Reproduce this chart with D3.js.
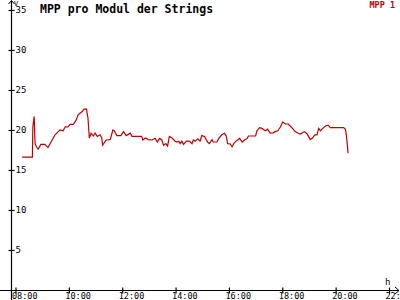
<html>
<head>
<script src="https://d3js.org/d3.v7.min.js"></script>
<style>
body { margin:0; background:#fff; }
text { font-family: "DejaVu Sans Mono", monospace; }
</style>
</head>
<body>
<script>
var width = 400;
var height = 300;

// MPP 1 (V) over the day
var times = ["08:15","08:38","08:39","08:42","08:44","08:47","08:51","08:57","09:06","09:13",
  "09:20","09:29","09:36","09:40","09:47","09:52","09:58","10:03","10:10","10:16",
  "10:21","10:25","10:30","10:34","10:40","10:41","10:43","10:46","10:50","10:55",
  "10:59","11:04","11:10","11:14","11:16","11:24","11:33","11:39","11:42","11:48",
  "11:57","12:03","12:09","12:18","12:22","12:44","12:46","12:52","12:59","13:07",
  "13:14","13:19","13:24","13:29","13:33","13:38","13:42","13:46","13:52","13:59",
  "14:03","14:07","14:10","14:14","14:18","14:24","14:31","14:37","14:40","14:44",
  "14:50","14:55","14:59","15:05","15:12","15:16","15:22","15:25","15:33","15:37",
  "15:44","15:50","15:54","15:57","16:03","16:07","16:12","16:18","16:24","16:30",
  "16:35","16:41","16:44","17:00","17:03","17:09","17:14","17:22","17:27","17:33",
  "17:39","17:44","17:50","17:56","18:01","18:07","18:13","18:18","18:23","18:29",
  "18:36","18:41","18:46","18:50","18:56","18:59","19:03","19:08","19:13","19:18",
  "19:22","19:26","19:31","19:37","19:43","19:48","20:18","20:22","20:24","20:26","20:28"];
var mpp1 = [16.6,16.6,20.4,21.7,18.3,17.9,17.6,18.2,18.2,17.8,
  18.5,19.4,19.8,20.0,19.9,20.4,20.4,20.7,20.7,21.2,
  21.9,22.1,22.3,22.6,22.6,22.1,21.5,19.0,19.6,19.25,
  19.6,19.2,19.4,19.0,18.1,18.75,18.8,20.0,19.9,19.3,
  19.3,19.8,19.3,19.6,19.2,19.2,18.75,19.0,18.8,18.75,
  18.95,18.5,18.95,18.75,18.1,18.3,18.0,19.2,19.0,18.6,
  18.5,18.6,18.3,18.6,18.2,18.6,18.6,18.3,18.75,18.6,
  18.9,18.6,19.3,19.2,18.5,18.3,18.8,18.5,18.5,18.95,
  19.4,19.6,19.25,18.3,18.25,17.9,18.4,18.7,18.95,18.5,
  18.75,18.95,19.25,19.25,19.9,20.3,20.2,19.9,20.1,19.6,
  19.65,19.8,19.9,20.4,21.0,20.75,20.75,20.5,20.2,19.8,
  19.6,19.5,19.7,19.8,19.5,19.2,18.8,19.0,19.4,19.4,
  20.2,19.9,20.2,20.5,20.6,20.3,20.3,20.1,19.4,18.3,17.1];
var xTicks = [8,10,12,14,16,18,20,22];
var yTicks = [5,10,15,20,25,30,35];

var lineColor = "#c00000";

var data = times.map(function(t, i) {
  var p = t.split(":");
  return {t: +p[0] + p[1] / 60, v: mpp1[i]};
});

var x = d3.scaleLinear().domain([8, 22]).range([15.5, 389]);
var y = d3.scaleLinear().domain([0, 35]).range([290, 10]);
var x0 = 11;
var y0 = 290.5;

var svg = d3.select("body").append("svg")
  .attr("width", width)
  .attr("height", height);

// axes lines with arrows
svg.append("line").attr("x1", x0 + 0.5).attr("x2", x0 + 0.5).attr("y1", 1).attr("y2", 300)
  .attr("stroke", "#000").attr("stroke-width", 1.2);
svg.append("line").attr("x1", 0).attr("x2", 399).attr("y1", y0).attr("y2", y0)
  .attr("stroke", "#000").attr("stroke-width", 1.2);
svg.append("path").attr("d", "M" + (x0 - 2.5) + ",4 L" + (x0 + 0.5) + ",0.5 L" + (x0 + 3.5) + ",4")
  .attr("fill", "none").attr("stroke", "#000");
svg.append("path").attr("d", "M395," + (y0 - 3.5) + " L399," + y0 + " L395," + (y0 + 3.5))
  .attr("fill", "none").attr("stroke", "#000");

var yAxis = svg.append("g")
  .attr("transform", "translate(" + (x0 + 0.5) + ",0)")
  .call(d3.axisRight(y).tickValues(yTicks).tickSize(3).tickPadding(1));
yAxis.select(".domain").remove();
yAxis.selectAll(".tick line").attr("x1", -3).attr("stroke-width", 1.2);
yAxis.selectAll(".tick text")
  .attr("font-family", "DejaVu Sans Mono").attr("font-size", 9).attr("fill", "#000");

var xAxis = svg.append("g")
  .attr("transform", "translate(0," + y0 + ")")
  .call(d3.axisBottom(x).tickValues(xTicks).tickSize(3).tickPadding(0)
    .tickFormat(function(d) { return (d < 10 ? "0" : "") + d + ":00"; }));
xAxis.select(".domain").remove();
xAxis.selectAll(".tick line").attr("y1", -3).attr("stroke-width", 1.2);
xAxis.selectAll(".tick text")
  .attr("font-family", "DejaVu Sans Mono").attr("font-size", 8.5).attr("fill", "#000")
  .attr("text-anchor", "start").attr("dx", -4).attr("dy", "0.6em");

// unit labels
svg.append("text").attr("x", 14).attr("y", 6).attr("font-size", 7).text("V");
svg.append("text").attr("x", 385).attr("y", 285).attr("font-size", 9).text("h");

// title and legend
svg.append("text").attr("x", 40).attr("y", 13)
  .attr("font-size", 11.5).attr("font-weight", "bold").attr("fill", "#000")
  .text("MPP pro Modul der Strings");
svg.append("text").attr("x", 395).attr("y", 8)
  .attr("font-size", 8.5).attr("font-weight", "bold").attr("text-anchor", "end").attr("fill", lineColor)
  .text("MPP 1");

var line = d3.line()
  .x(function(d) { return x(d.t); })
  .y(function(d) { return y(d.v); });

svg.append("path")
  .datum(data)
  .attr("fill", "none")
  .attr("stroke", lineColor)
  .attr("stroke-width", 1.2)
  .attr("d", line);
</script>
</body>
</html>
